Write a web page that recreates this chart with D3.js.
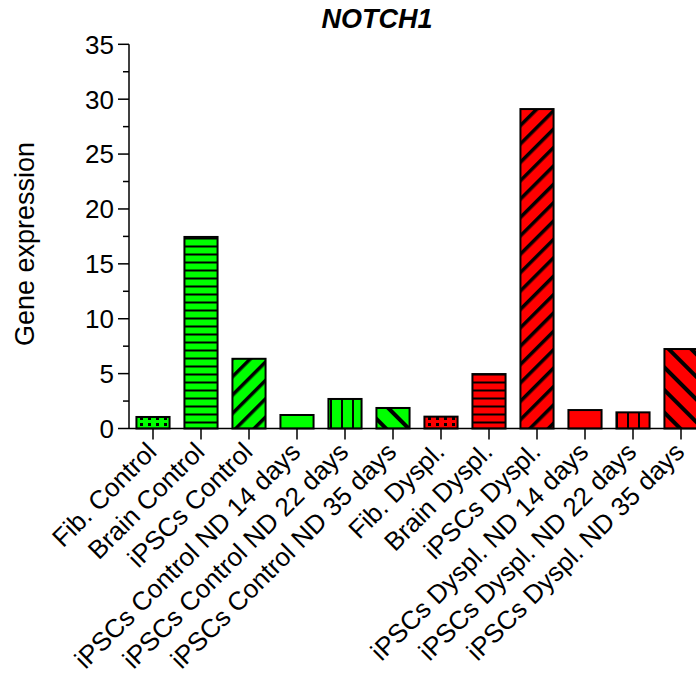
<!DOCTYPE html>
<html><head><meta charset="utf-8">
<script src="https://cdn.jsdelivr.net/npm/d3@7"></script>
<style>body{margin:0;background:#fff}svg{display:block}text{font-family:"Liberation Sans",Arial,sans-serif}</style>
</head><body><svg id="c" width="696" height="678"></svg>
<script>
const categories = ["Fib. Control","Brain Control","iPSCs Control","iPSCs Control ND 14 days","iPSCs Control ND 22 days","iPSCs Control ND 35 days","Fib. Dyspl.","Brain Dyspl.","iPSCs Dyspl.","iPSCs Dyspl. ND 14 days","iPSCs Dyspl. ND 22 days","iPSCs Dyspl. ND 35 days"];
const values = [1.05, 17.45, 6.35, 1.23, 2.69, 1.87, 1.08, 4.96, 29.1, 1.68, 1.47, 7.24];
const groups = ["Control","Control","Control","Control","Control","Control","Dyspl","Dyspl","Dyspl","Dyspl","Dyspl","Dyspl"];
const patterns = ["dots","hlines","diagUp","none","vlines","diagDown","dots","hlines","diagUp","none","vlines","diagDown"];
const yTicks = [0,5,10,15,20,25,30,35];
const colors = {Control:"#00ff00", Dyspl:"#ff0000"};

const svg = d3.select("#c");
const x = d3.scaleBand().domain(categories).range([129, 705]).paddingInner(0.31).paddingOuter(0.155);
const y = d3.scaleLinear().domain([0,35]).range([428.5, 44.3]);

const defs = svg.append("defs");
function addPatterns(g){
  const c = colors[g];
  let p = defs.append("pattern").attr("id","dots"+g).attr("patternUnits","userSpaceOnUse").attr("width",8).attr("height",6).attr("x",2).attr("y",2);
  p.append("rect").attr("width",8).attr("height",6).attr("fill",c);
  p.append("rect").attr("x",2).attr("y",1).attr("width",3).attr("height",3).attr("fill","#000");
  p = defs.append("pattern").attr("id","hlines"+g).attr("patternUnits","userSpaceOnUse").attr("width",10).attr("height",8).attr("y",y(0)+1);
  p.append("rect").attr("width",10).attr("height",8).attr("fill",c);
  p.append("rect").attr("y",0).attr("width",10).attr("height",2).attr("fill","#000");
  p = defs.append("pattern").attr("id","vlines"+g).attr("patternUnits","userSpaceOnUse").attr("width",11).attr("height",10).attr("x",0);
  p.append("rect").attr("width",11).attr("height",10).attr("fill",c);
  p.append("rect").attr("x",0).attr("width",2).attr("height",10).attr("fill","#000");
  p = defs.append("pattern").attr("id","diagUp"+g).attr("patternUnits","userSpaceOnUse").attr("width",13).attr("height",13).attr("patternTransform","rotate(45)");
  p.append("rect").attr("width",13).attr("height",13).attr("fill",c);
  p.append("rect").attr("x",0).attr("width",3.5).attr("height",13).attr("fill","#000");
  p = defs.append("pattern").attr("id","diagDown"+g).attr("patternUnits","userSpaceOnUse").attr("width",16).attr("height",16).attr("patternTransform","rotate(-45)");
  p.append("rect").attr("width",16).attr("height",16).attr("fill",c);
  p.append("rect").attr("x",0).attr("width",4).attr("height",16).attr("fill","#000");
}
addPatterns("Control"); addPatterns("Dyspl");

const data = categories.map((c,i)=>({c, v:values[i], g:groups[i], p:patterns[i]}));

svg.append("g").selectAll("rect").data(data).join("rect")
  .attr("x", d=>x(d.c)).attr("width", x.bandwidth())
  .attr("y", d=>y(d.v)).attr("height", d=>y(0)-y(d.v))
  .attr("fill", d=> d.p==="none" ? colors[d.g] : `url(#${d.p}${d.g})`)
  .attr("stroke","#000").attr("stroke-width",2);

// Y axis
const ya = svg.append("g").attr("transform","translate(129,0)");
ya.append("line").attr("x1",0).attr("x2",0).attr("y1",y(35)).attr("y2",y(0)).attr("stroke","#000").attr("stroke-width",1.5);
ya.selectAll(".maj").data(yTicks).join("line").attr("x1",-11).attr("x2",0).attr("y1",d=>y(d)).attr("y2",d=>y(d)).attr("stroke","#000").attr("stroke-width",1.5);
ya.selectAll(".min").data(yTicks.slice(0,-1).map(d=>d+2.5)).join("line").attr("x1",-6).attr("x2",0).attr("y1",d=>y(d)).attr("y2",d=>y(d)).attr("stroke","#000").attr("stroke-width",1.5);
ya.selectAll("text").data(yTicks).join("text").attr("x",-15).attr("y",d=>y(d)).attr("dy","0.36em").attr("text-anchor","end").attr("font-size",26).text(d=>d);

// X axis
const xa = svg.append("g");
xa.append("line").attr("x1",129).attr("x2",696).attr("y1",y(0)).attr("y2",y(0)).attr("stroke","#000").attr("stroke-width",1.5);
xa.selectAll(".tk").data(categories).join("line").attr("x1",d=>x(d)+x.bandwidth()/2).attr("x2",d=>x(d)+x.bandwidth()/2).attr("y1",y(0)).attr("y2",y(0)+11).attr("stroke","#000").attr("stroke-width",1.5);
xa.selectAll("text").data(categories).join("text")
  .attr("transform", d=>`translate(${x(d)+x.bandwidth()/2+5},${y(0)+25}) rotate(-45)`)
  .attr("text-anchor","end").attr("font-size",26).text(d=>d);

svg.append("text").attr("transform","translate(34,244) rotate(-90)").attr("text-anchor","middle").attr("font-size",27).text("Gene expression");
svg.append("text").attr("x",377).attr("y",28).attr("text-anchor","middle").attr("font-size",27).attr("font-weight","bold").attr("font-style","italic").text("NOTCH1");
</script></body></html>
